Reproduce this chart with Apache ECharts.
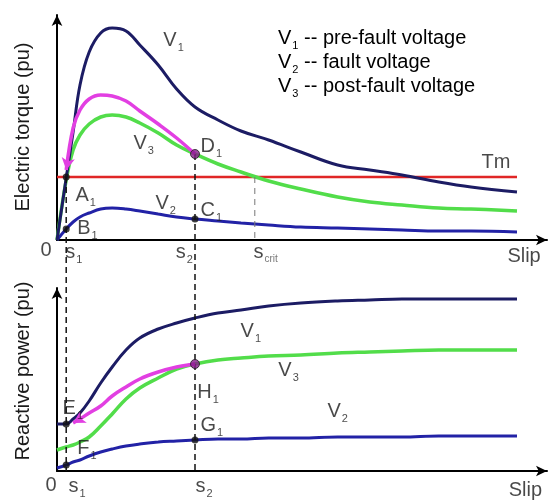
<!DOCTYPE html>
<html>
<head>
<meta charset="utf-8">
<script src="https://cdn.jsdelivr.net/npm/echarts@6/dist/echarts.min.js"></script>
<style>
  html, body { margin: 0; padding: 0; background: #fff; }
  #chart { width: 553px; height: 502px; }
</style>
</head>
<body>
<div id="chart"></div>
<script>
// Slip sample points shared by every curve (0 = synchronous speed, 100 = end of plotted range)
const slip = [0, 2, 3.5, 5, 7, 9.5, 12, 15, 18, 22, 26, 30, 35, 40, 46, 53, 61, 68, 75, 83, 90, 100];

// Electric torque (pu) for the three terminal voltages
const torqueV1 = [0, 0.62, 1.08, 1.55, 1.88, 2.07, 2.12, 2.09, 1.95, 1.75, 1.51, 1.33, 1.20, 1.09, 1.00, 0.88, 0.75, 0.70, 0.65, 0.58, 0.53, 0.48];
const torqueV2 = [0, 0.11, 0.18, 0.23, 0.27, 0.31, 0.32, 0.31, 0.29, 0.26, 0.23, 0.21, 0.19, 0.17, 0.15, 0.13, 0.12, 0.11, 0.10, 0.09, 0.09, 0.08];
const torqueV3 = [0, 0.60, 0.90, 1.05, 1.16, 1.23, 1.25, 1.23, 1.17, 1.07, 0.95, 0.86, 0.76, 0.68, 0.59, 0.51, 0.43, 0.38, 0.35, 0.32, 0.31, 0.29];
// Recovery path after fault clearing (D1 back to A1), null outside s1..s2
const torqueRecovery = [null, 0.70, 1.12, 1.30, 1.41, 1.45, 1.44, 1.39, 1.29, 1.16, 1.02, 0.86, null, null, null, null, null, null, null, null, null, null];
const torqueMech = 0.63;

// Reactive power (pu) for the three terminal voltages
const reactiveV1 = [0.47, 0.47, 0.52, 0.58, 0.70, 0.88, 1.04, 1.21, 1.33, 1.42, 1.48, 1.53, 1.58, 1.61, 1.65, 1.68, 1.70, 1.71, 1.72, 1.72, 1.72, 1.72];
const reactiveV2 = [0.03, 0.06, 0.09, 0.11, 0.15, 0.19, 0.22, 0.25, 0.27, 0.29, 0.30, 0.31, 0.32, 0.32, 0.33, 0.33, 0.34, 0.34, 0.34, 0.35, 0.35, 0.35];
const reactiveV3 = [0.21, 0.24, 0.26, 0.29, 0.34, 0.45, 0.57, 0.72, 0.83, 0.93, 1.02, 1.07, 1.11, 1.13, 1.15, 1.16, 1.18, 1.19, 1.20, 1.21, 1.21, 1.21];
const reactiveRecovery = [null, null, 0.48, 0.52, 0.58, 0.65, 0.75, 0.84, 0.92, 0.99, 1.04, 1.07, null, null, null, null, null, null, null, null, null, null];

// Characteristic slips
const s1 = 2, s2 = 30, sCrit = 43;

// Legend lines and axis titles
const legendLines = [['1', 'pre-fault voltage'], ['2', 'fault voltage'], ['3', 'post-fault voltage']];
const torqueTitle = 'Electric torque (pu)';
const reactiveTitle = 'Reactive power (pu)';

// ---- layout ----
const FONT = '"Liberation Sans", Arial, sans-serif';
const INK = '#1a1a1a';
const PX_PER_PU = 100;
const AXIS_LEFT = 57, AXIS_WIDTH = 490, SLIP_PX = 4.6;
const TOP_AXIS_Y = 240, TOP_H = 225;
const BOT_AXIS_Y = 471, BOT_H = 183;
const SLIP_MAX = AXIS_WIDTH / SLIP_PX;

const C = { v1: '#1c1c64', v2: '#2222a6', v3: '#52dd4a', rec: '#e23fe2', tm: '#e02626', pt: '#111', ptRec: '#861c8a' };

const at = (arr, s) => arr[slip.indexOf(s)];
const pairs = arr => slip.map((s, i) => arr[i] == null ? null : [s, arr[i]]).filter(p => p);

// annotation anchors: [text, slip, value]  (left edge of text, vertical centre)
const sub = (m, b) => `{m|${m}}{b|${b}}`;
const topNotes = [
  [sub('V', '1'), 23.0, 2.00], [sub('V', '3'), 16.5, 0.965], [sub('V', '2'), 21.3, 0.365],
  [sub('D', '1'), 31.1, 0.935], [sub('A', '1'), 3.9, 0.45], [sub('C', '1'), 31.1, 0.30],
  [sub('B', '1'), 4.3, 0.115], ['{m|Tm}', 92.2, 0.775],
  ['{m|0}', -3.7, -0.10], [sub('s', '1'), 1.7, -0.12], [sub('s', '2'), 25.7, -0.12],
  ['{m|s}{c|crit}', 42.6, -0.12], ['{m|Slip}', 97.8, -0.165]
];
const botNotes = [
  [sub('V', '1'), 39.8, 1.395], [sub('H', '1'), 30.4, 0.79], [sub('G', '1'), 31.1, 0.46],
  [sub('V', '3'), 48.0, 1.01], [sub('V', '2'), 58.7, 0.60], [sub('E', '1'), 1.1, 0.63],
  [sub('F', '1'), 4.3, 0.23],
  ['{m|0}', -2.6, -0.14], [sub('s', '1'), 2.4, -0.15], [sub('s', '2'), 30.0, -0.15], ['{m|Slip}', 98.1, -0.19]
];

const rich = {
  m: { fontSize: 20, lineHeight: 21, fontFamily: FONT, color: INK },
  b: { fontSize: 11, lineHeight: 8, padding: [15, 0, 0, 1], fontFamily: FONT, color: INK },
  c: { fontSize: 10, lineHeight: 8, padding: [15, 0, 0, 1], fontFamily: FONT, color: '#555' }
};

function axisPair(grid, ymax) {
  const arrowLine = { show: true, onZero: false, symbol: ['none', 'arrow'], symbolSize: [8, 11],
    lineStyle: { color: '#000', width: 2 } };
  return {
    x: { gridIndex: grid, type: 'value', min: 0, max: SLIP_MAX, axisLine: arrowLine,
      axisTick: { show: false }, axisLabel: { show: false }, splitLine: { show: false } },
    y: { gridIndex: grid, type: 'value', min: 0, max: ymax, axisLine: arrowLine,
      axisTick: { show: false }, axisLabel: { show: false }, splitLine: { show: false } }
  };
}
const aTop = axisPair(0, TOP_H / PX_PER_PU);
const aBot = axisPair(1, BOT_H / PX_PER_PU);
const hidden = { show: false, axisLine: { show: false }, axisTick: { show: false }, axisLabel: { show: false }, splitLine: { show: false } };

function curve(grid, arr, color, width, z) {
  return { type: 'line', xAxisIndex: grid, yAxisIndex: grid, data: pairs(arr), smooth: 0.4,
    symbol: 'none', lineStyle: { color, width }, z, silent: true };
}
function recovery(grid, arr, rot) {
  const d = pairs(arr).reverse();
  const last = d.length - 1;
  return { type: 'line', xAxisIndex: grid, yAxisIndex: grid, smooth: 0.4, showSymbol: true, symbol: 'none',
    data: d.map((p, i) => i === last
      ? { value: p, symbol: 'arrow', symbolSize: [10, 12], symbolRotate: rot, itemStyle: { color: C.rec } }
      : { value: p }),
    lineStyle: { color: C.rec, width: 3.5 }, z: 5, silent: true };
}
function dots(grid, pts) {
  return { type: 'scatter', xAxisIndex: grid, yAxisIndex: grid, z: 8, silent: true,
    data: pts.map(p => ({ value: [p[0], p[1]], symbolSize: p[2] ? 9 : 7,
      itemStyle: { color: p[2] ? C.ptRec : C.pt, borderColor: '#222', borderWidth: p[2] ? 1 : 0 } })) };
}
function notes(grid, list) {
  return { type: 'scatter', xAxisIndex: grid, yAxisIndex: grid, clip: false, z: 9, silent: true,
    symbol: 'circle', symbolSize: 1, itemStyle: { color: 'rgba(0,0,0,0)' },
    data: list.map(n => ({ value: [n[1], n[2]], label: { show: true, formatter: n[0], position: 'right', distance: 0, rich } })) };
}

// overlay: vertical guides crossing both panels (value = px above lower slip axis)
const ovTop = t => t * PX_PER_PU + (BOT_AXIS_Y - TOP_AXIS_Y);
const ovBot = q => q * PX_PER_PU;
function guide(x, y0, y1, color, width, dash) {
  return { type: 'line', xAxisIndex: 2, yAxisIndex: 2, data: [[x, y0], [x, y1]], symbol: 'none',
    lineStyle: { color, width, type: dash }, z: 4, silent: true };
}

const chart = echarts.init(document.getElementById('chart'), null, { renderer: 'canvas' });
chart.setOption({
  animation: false,
  backgroundColor: '#fff',
  grid: [
    { left: AXIS_LEFT, width: AXIS_WIDTH, top: TOP_AXIS_Y - TOP_H, height: TOP_H },
    { left: AXIS_LEFT, width: AXIS_WIDTH, top: BOT_AXIS_Y - BOT_H, height: BOT_H },
    { left: AXIS_LEFT, width: AXIS_WIDTH, top: 0, height: BOT_AXIS_Y }
  ],
  xAxis: [aTop.x, aBot.x, Object.assign({ gridIndex: 2, type: 'value', min: 0, max: SLIP_MAX }, hidden)],
  yAxis: [aTop.y, aBot.y, Object.assign({ gridIndex: 2, type: 'value', min: 0, max: BOT_AXIS_Y }, hidden)],
  graphic: [
    { type: 'text', x: 23, y: 127, rotation: Math.PI / 2,
      style: { text: torqueTitle, font: `20px ${FONT}`, fill: INK, align: 'center', verticalAlign: 'middle' } },
    { type: 'text', x: 23, y: 371, rotation: Math.PI / 2,
      style: { text: reactiveTitle, font: `20px ${FONT}`, fill: INK, align: 'center', verticalAlign: 'middle' } }
  ].concat(legendLines.map((l, i) => ({
    type: 'text', x: 278, y: 38 + i * 24,
    style: { text: `{m|V}{b|${l[0]}}{m| -- ${l[1]}}`, rich, align: 'left', verticalAlign: 'middle' }
  }))),
  series: [
    // torque panel
    { type: 'line', xAxisIndex: 0, yAxisIndex: 0, data: [[0, torqueMech], [100, torqueMech]], symbol: 'none',
      lineStyle: { color: C.tm, width: 2.5 }, z: 2, silent: true },
    curve(0, torqueV3, C.v3, 3.5, 3),
    curve(0, torqueV2, C.v2, 3, 3),
    curve(0, torqueV1, C.v1, 3, 4),
    recovery(0, torqueRecovery, 170),
    dots(0, [[s1, torqueMech], [s1, at(torqueV2, s1)], [s2, at(torqueV2, s2)], [s2, at(torqueV3, s2), true]]),
    notes(0, topNotes),
    // reactive power panel
    curve(1, reactiveV3, C.v3, 3.5, 3),
    curve(1, reactiveV2, C.v2, 3, 3),
    curve(1, reactiveV1, C.v1, 3, 4),
    recovery(1, reactiveRecovery, 120),
    dots(1, [[s1, at(reactiveV1, s1)], [s1, at(reactiveV2, s1)], [s2, at(reactiveV2, s2)], [s2, at(reactiveV3, s2), true]]),
    notes(1, botNotes),
    // guides through both panels
    guide(s1, ovTop(torqueMech), ovBot(0), '#111', 1.5, [6, 4]),
    guide(s2, ovTop(at(torqueV3, s2)), ovBot(0), '#111', 1.5, [6, 4]),
    guide(sCrit, ovTop(torqueMech), ovTop(0), '#777', 1, [6, 5])
  ]
});
</script>
</body>
</html>
